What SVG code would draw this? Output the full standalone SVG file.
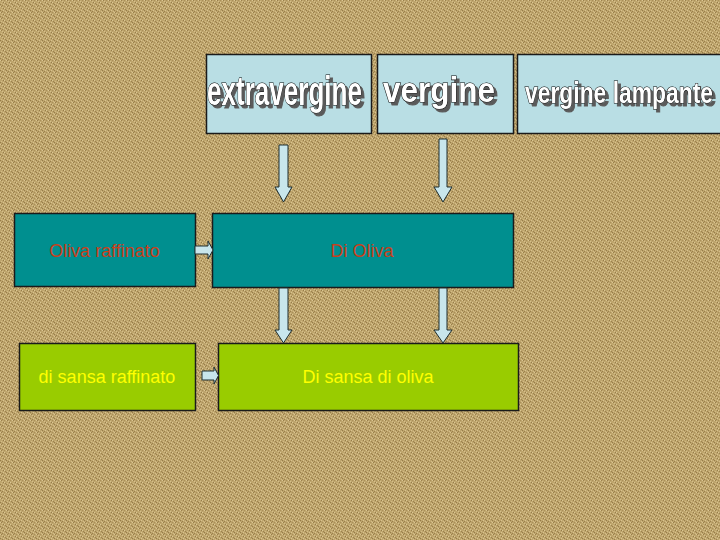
<svg xmlns="http://www.w3.org/2000/svg" width="720" height="540" viewBox="0 0 720 540">
  <defs>
    <pattern id="burlap" width="6" height="6" patternUnits="userSpaceOnUse">
      <rect width="6" height="6" fill="#bea56d"/>
      <rect x="0" y="0" width="1" height="1" fill="#dcc793"/>
      <rect x="2" y="1" width="1" height="1" fill="#d6c08b"/>
      <rect x="4" y="2" width="1" height="1" fill="#ddc995"/>
      <rect x="1" y="3" width="1" height="1" fill="#d4bc86"/>
      <rect x="3" y="4" width="1" height="1" fill="#dac490"/>
      <rect x="5" y="5" width="1" height="1" fill="#d5bd88"/>
      <rect x="1" y="0" width="1" height="1" fill="#9a7f4b"/>
      <rect x="3" y="2" width="1" height="1" fill="#967b48"/>
      <rect x="5" y="3" width="1" height="1" fill="#9d824e"/>
      <rect x="0" y="4" width="1" height="1" fill="#977c49"/>
      <rect x="2" y="5" width="1" height="1" fill="#9b804c"/>
      <rect x="4" y="0" width="1" height="1" fill="#aa8f59"/>
    </pattern>
    <filter id="shadow" x="-5%" y="-20%" width="115%" height="150%">
      <feOffset in="SourceAlpha" dx="3" dy="3" result="off"/>
      <feFlood flood-color="#5a5a5a"/>
      <feComposite in2="off" operator="in" result="sh"/>
      <feMerge>
        <feMergeNode in="sh"/>
        <feMergeNode in="SourceGraphic"/>
      </feMerge>
    </filter>
    <style>
      .top { fill: #b9dee4; stroke: #1a1a1a; stroke-width: 1.5; }
      .teal { fill: #008f8f; stroke: #1a1a1a; stroke-width: 1.5; }
      .green { fill: #99cc00; stroke: #1a1a1a; stroke-width: 1.5; }
      .title { font-family: "Liberation Sans", Arial, sans-serif; font-weight: bold; fill: #ffffff; stroke: #000000; stroke-width: 1.2; paint-order: stroke; filter: url(#shadow); }
      .red { font-family: "Liberation Sans", Arial, sans-serif; font-size: 18px; fill: #c8401c; text-anchor: middle; }
      .yel { font-family: "Liberation Sans", Arial, sans-serif; font-size: 18px; fill: #ffff00; text-anchor: middle; }
      .arrow { fill: #c8e6ec; stroke: #1e2e30; stroke-width: 1; }
    </style>
  </defs>

  <rect width="720" height="540" fill="url(#burlap)"/>

  <g id="node-extravergine">
    <rect class="top" x="206.5" y="54.5" width="165" height="79"/>
    <text class="title" x="207" y="105" font-size="41" textLength="155" lengthAdjust="spacingAndGlyphs">extravergine</text>
  </g>

  <g id="node-vergine">
    <rect class="top" x="377.5" y="54.5" width="136" height="79"/>
    <text class="title" x="383" y="101.5" font-size="35" textLength="112" lengthAdjust="spacingAndGlyphs">vergine</text>
  </g>

  <g id="node-vergine-lampante">
    <rect class="top" x="517.5" y="54.5" width="205" height="79"/>
    <text class="title" x="525" y="103" font-size="30" textLength="188" lengthAdjust="spacingAndGlyphs">vergine lampante</text>
  </g>

  <g id="node-oliva-raffinato">
    <rect class="teal" x="14.5" y="213.5" width="181" height="73"/>
    <text class="red" x="104.5" y="256.5">Oliva raffinato</text>
  </g>

  <g id="node-di-oliva">
    <rect class="teal" x="212.5" y="213.5" width="301" height="74"/>
    <text class="red" x="362" y="257">Di Oliva</text>
  </g>

  <g id="node-di-sansa-raffinato">
    <rect class="green" x="19.5" y="343.5" width="176" height="67"/>
    <text class="yel" x="107" y="383">di sansa raffinato</text>
  </g>

  <g id="node-di-sansa-di-oliva">
    <rect class="green" x="218.5" y="343.5" width="300" height="67"/>
    <text class="yel" x="368" y="383">Di sansa di oliva</text>
  </g>

  <g id="connectors">
    <path class="arrow" d="M279,145 H288 V187 H292 L283.5,202 L275,187 H279 Z"/>
    <path class="arrow" d="M439,139 H447 V187 H452 L443,202 L434,187 H439 Z"/>
    <path class="arrow" d="M279,288 H288 V330 H292 L283.5,343 L275,330 H279 Z"/>
    <path class="arrow" d="M439,288 H447 V330 H452 L443,343 L434,330 H439 Z"/>
    <path class="arrow" d="M195,246 H208 V241 L213,250 L208,259 V254 H195 Z"/>
    <path class="arrow" d="M202,371 H214 V367 L218.5,375.5 L214,384 V380 H202 Z"/>
  </g>
</svg>
